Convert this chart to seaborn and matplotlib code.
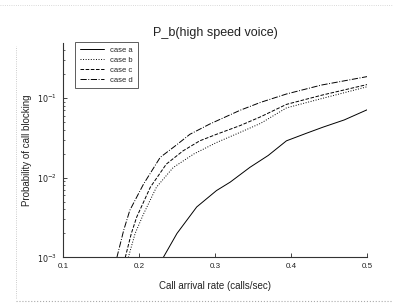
import numpy as np
import pandas as pd
import matplotlib
matplotlib.use("Agg")
import matplotlib.pyplot as plt
from matplotlib.lines import Line2D
from matplotlib.ticker import LogLocator, FixedLocator, FixedFormatter, NullFormatter
import seaborn as sns

# data
x_a = [0.232, 0.250, 0.276, 0.302, 0.320, 0.346, 0.370, 0.394, 0.420, 0.442, 0.470, 0.500]
y_a = [0.0010, 0.0020, 0.0043, 0.0069, 0.0088, 0.0135, 0.0190, 0.0290, 0.0360, 0.0430, 0.0530, 0.0710]
x_b = [0.186, 0.195, 0.206, 0.223, 0.245, 0.272, 0.302, 0.333, 0.360, 0.394, 0.440, 0.500]
y_b = [0.0010, 0.0020, 0.0035, 0.0076, 0.0134, 0.0198, 0.0276, 0.0370, 0.0480, 0.0750, 0.0980, 0.1380]
x_c = [0.182, 0.190, 0.197, 0.215, 0.236, 0.258, 0.280, 0.302, 0.333, 0.360, 0.394, 0.440, 0.500]
y_c = [0.0010, 0.0020, 0.0032, 0.0076, 0.0148, 0.0217, 0.0290, 0.0350, 0.0450, 0.0580, 0.0830, 0.1080, 0.1470]
x_d = [0.171, 0.180, 0.188, 0.206, 0.228, 0.250, 0.267, 0.293, 0.333, 0.360, 0.394, 0.440, 0.500]
y_d = [0.0010, 0.0022, 0.0039, 0.0083, 0.0180, 0.0260, 0.0350, 0.0470, 0.0700, 0.0880, 0.1120, 0.1450, 0.1850]
case_names = ["case a", "case b", "case c", "case d"]
x_ticks = [0.1, 0.2, 0.3, 0.4, 0.5]
x_tick_labels = ["0.1", "0.2", "0.3", "0.4", "0.5"]
y_ticks = [1e-3, 1e-2, 1e-1]
y_tick_labels = [r"$10^{-3}$", r"$10^{-2}$", r"$10^{-1}$"]
title = "P_b(high speed voice)"
xlabel = "Call arrival rate (calls/sec)"
ylabel = "Probability of call blocking"

sns.set_theme(style="white")
plt.rcParams['font.family'] = ['Liberation Sans', 'DejaVu Sans']

fig = plt.figure(figsize=(3.93, 3.04), dpi=100)
ax = fig.add_axes([0.160, 0.153, 0.774, 0.706])

styles = ["-", ":", "--", "-."]
xs = [x_a, x_b, x_c, x_d]
ys = [y_a, y_b, y_c, y_d]
for name, xv, yv, ls in zip(case_names, xs, ys, styles):
    df = pd.DataFrame({"x": xv, "y": yv})
    sns.lineplot(data=df, x="x", y="y", ax=ax, color="black", linewidth=0.7,
                 linestyle=ls, label=name, sort=False, estimator=None)

ax.set_yscale("log")
ax.set_xlim(0.1, 0.5)
ax.set_ylim(1e-3, 0.49)
ax.xaxis.set_major_locator(FixedLocator(x_ticks))
ax.xaxis.set_major_formatter(FixedFormatter(x_tick_labels))
ax.yaxis.set_major_locator(FixedLocator(y_ticks))
ax.yaxis.set_major_formatter(FixedFormatter(y_tick_labels))
ax.yaxis.set_minor_locator(LogLocator(base=10, subs=np.arange(2, 10)))
ax.yaxis.set_minor_formatter(NullFormatter())
ax.tick_params(axis="both", which="both", direction="in", labelsize=5.8, colors="#222222")
ax.tick_params(axis="both", which="major", length=3, width=0.6, pad=4)
ax.tick_params(axis="y", which="minor", length=1.6, width=0.5, left=True)
ax.tick_params(axis="x", which="major", bottom=True)
ax.tick_params(axis="y", which="major", left=True)

for s in ["top", "right"]:
    ax.spines[s].set_visible(False)
for s in ["left", "bottom"]:
    ax.spines[s].set_color("#333333")
    ax.spines[s].set_linewidth(0.8)

ax.set_title(title, fontsize=9, pad=5, color="#222222")
ax.set_xlabel(xlabel, fontsize=7, labelpad=8, color="#222222")
ax.set_ylabel(ylabel, fontsize=7, labelpad=4, color="#222222")

leg = ax.legend(loc="upper left", bbox_to_anchor=(0.04, 1.005), fontsize=5.5,
                frameon=True, fancybox=False, handlelength=3.2, handletextpad=0.8,
                borderpad=0.6, labelspacing=0.35, borderaxespad=0)
leg.get_frame().set_edgecolor("#333333")
leg.get_frame().set_linewidth(0.7)

# faint scan border lines
fig.add_artist(Line2D([0.04, 0.04], [0.02, 0.85], transform=fig.transFigure, color="#bbbbbb", lw=0.6, ls=":"))
fig.add_artist(Line2D([0.0, 1.0], [0.985, 0.985], transform=fig.transFigure, color="#cccccc", lw=0.6, ls=":"))
fig.add_artist(Line2D([0.04, 1.0], [0.01, 0.01], transform=fig.transFigure, color="#aaaaaa", lw=0.8, ls=":"))

fig.savefig("out.png", dpi=100, facecolor="white")
